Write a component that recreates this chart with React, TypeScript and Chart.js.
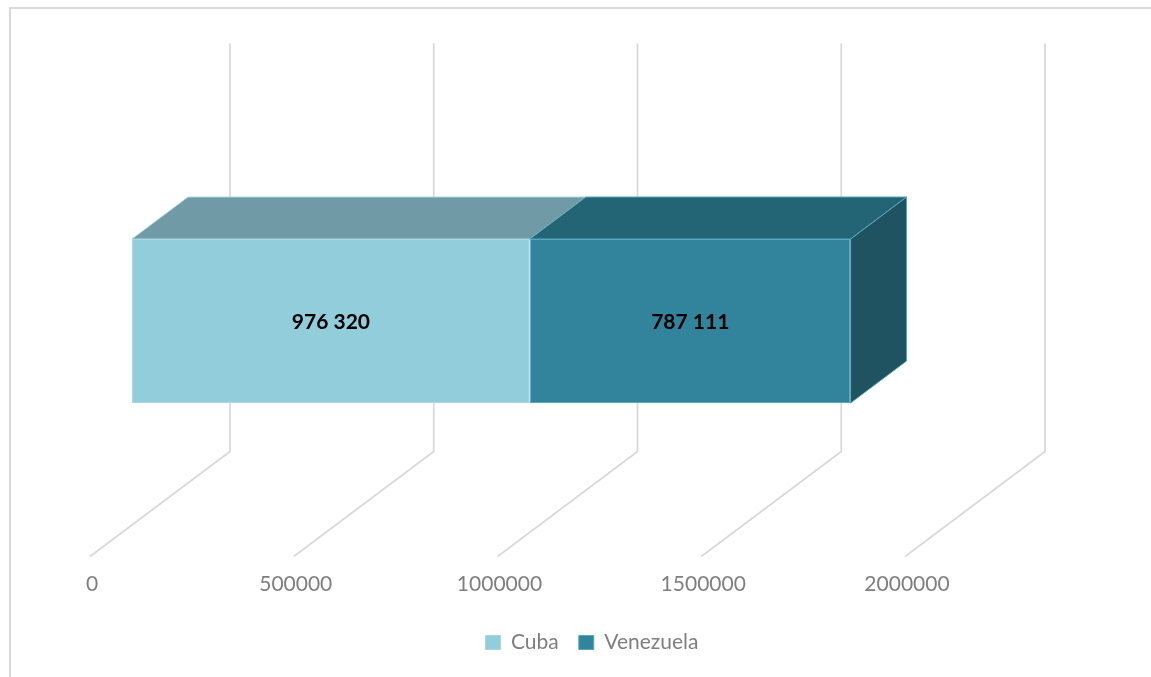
import React, { useEffect, useRef } from 'react';
import { Chart, registerables } from 'chart.js';

Chart.register(...registerables);

// ---------- data ----------
const CATEGORIES = ['Total'];
const SERIES_NAMES = ['Cuba', 'Venezuela'];
const CUBA_VALUES = [976320];
const VENEZUELA_VALUES = [787111];
const X_TICKS = [0, 500000, 1000000, 1500000, 2000000];

// ---------- styles ----------
const FRONT_COLORS = ['#92CDDC', '#31849B'];
const TOP_COLORS = ['#6F9AA6', '#236574'];
const SIDE_COLOR = '#1F5362';
const EDGE_COLORS = ['#A9D8E4', '#55A9BF'];
const GRID_COLOR = '#D9D9D9';
const TEXT_GREY = '#7F7F7F';
const FONT = 'Lato, "Open Sans", sans-serif';

// 3D projection: depth t in [0,1] (0 = floor front, 1 = back wall)
const DEPTH_DX = 140;
const DEPTH_DY = 105;
const BAR_T0 = 0.3;
const BAR_T1 = 0.7;
const WALL_MARGIN = 40;

const proj = (x: number, y: number, t: number): [number, number] => [
  x + (t - BAR_T0) * DEPTH_DX,
  y - (t - BAR_T0) * DEPTH_DY,
];

const fmt = (v: number) => String(Math.round(v)).replace(/\B(?=(\d{3})+(?!\d))/g, ' ');

function poly(ctx: CanvasRenderingContext2D, pts: [number, number][], fill: string, stroke: string) {
  ctx.beginPath();
  ctx.moveTo(pts[0][0], pts[0][1]);
  for (let i = 1; i < pts.length; i++) ctx.lineTo(pts[i][0], pts[i][1]);
  ctx.closePath();
  ctx.fillStyle = fill;
  ctx.fill();
  ctx.strokeStyle = stroke;
  ctx.lineWidth = 1;
  ctx.stroke();
}

const threeDPlugin = {
  id: 'threeD',
  beforeDraw(chart: any) {
    const ctx = chart.ctx as CanvasRenderingContext2D;
    ctx.save();
    ctx.fillStyle = '#ffffff';
    ctx.fillRect(0, 0, chart.width, chart.height);
    ctx.strokeStyle = GRID_COLOR;
    ctx.lineWidth = 2;
    ctx.strokeRect(10, 8, chart.width + 40, chart.height + 40);
    ctx.restore();
  },
  beforeDatasetsDraw(chart: any) {
    const ctx = chart.ctx as CanvasRenderingContext2D;
    const area = chart.chartArea;
    const xs = chart.scales.x;
    const yFloor = area.bottom + WALL_MARGIN;
    const yCeil = area.top - WALL_MARGIN;
    ctx.save();
    ctx.strokeStyle = GRID_COLOR;
    ctx.lineWidth = 1.75;
    xs.ticks.forEach((tk: any) => {
      const px = xs.getPixelForValue(tk.value);
      const [bx, by0] = proj(px, yCeil, 1);
      const [, by1] = proj(px, yFloor, 1);
      const [fx, fy] = proj(px, yFloor, 0);
      ctx.beginPath();
      ctx.moveTo(bx, by0);
      ctx.lineTo(bx, by1);
      ctx.lineTo(fx, fy);
      ctx.stroke();
    });
    ctx.restore();
  },
  afterDatasetsDraw(chart: any) {
    const ctx = chart.ctx as CanvasRenderingContext2D;
    const metas = chart.getSortedVisibleDatasetMetas();
    ctx.save();
    metas.forEach((meta: any, di: number) => {
      meta.data.forEach((el: any) => {
        const p = el.getProps(['x', 'y', 'base', 'height'], true);
        const top = p.y - p.height / 2;
        const bottom = p.y + p.height / 2;
        const left = Math.min(p.base, p.x);
        const right = Math.max(p.base, p.x);
        const [l1x, t1y] = proj(left, top, BAR_T1);
        const [r1x] = proj(right, top, BAR_T1);
        poly(ctx, [[left, top], [right, top], [r1x, t1y], [l1x, t1y]], TOP_COLORS[di], EDGE_COLORS[di]);
        if (di === metas.length - 1) {
          const [, b1y] = proj(right, bottom, BAR_T1);
          poly(ctx, [[right, top], [r1x, t1y], [r1x, b1y], [right, bottom]], SIDE_COLOR, EDGE_COLORS[di]);
        }
      });
    });
    // data labels
    ctx.fillStyle = '#000000';
    ctx.font = `bold 21px ${FONT}`;
    ctx.textAlign = 'center';
    ctx.textBaseline = 'middle';
    metas.forEach((meta: any) => {
      const ds = chart.data.datasets[meta.index];
      meta.data.forEach((el: any, i: number) => {
        const p = el.getProps(['x', 'y', 'base'], true);
        ctx.fillText(fmt(ds.data[i] as number), (p.x + p.base) / 2, p.y + 1);
      });
    });
    ctx.restore();
  },
};

export default function App() {
  const ref = useRef<HTMLCanvasElement>(null);
  useEffect(() => {
    const chart = new Chart(ref.current as HTMLCanvasElement, {
      type: 'bar',
      data: {
        labels: CATEGORIES,
        datasets: [
          {
            label: SERIES_NAMES[0],
            data: CUBA_VALUES,
            backgroundColor: FRONT_COLORS[0],
            borderColor: EDGE_COLORS[0],
            borderWidth: 1,
            borderSkipped: false,
            categoryPercentage: 1,
            barPercentage: 0.5,
            yAxisID: 'y',
          },
          {
            label: SERIES_NAMES[1],
            data: VENEZUELA_VALUES,
            backgroundColor: FRONT_COLORS[1],
            borderColor: EDGE_COLORS[1],
            borderWidth: 1,
            borderSkipped: false,
            categoryPercentage: 1,
            barPercentage: 0.5,
            yAxisID: 'y',
          },
        ],
      },
      options: {
        indexAxis: 'y',
        responsive: false,
        animation: false,
        events: [],
        layout: { padding: { left: 132, right: 99, top: 157, bottom: 14 } },
        scales: {
          x: {
            type: 'linear',
            stacked: true,
            min: X_TICKS[0],
            max: X_TICKS[X_TICKS.length - 1],
            grid: { display: false, drawTicks: false },
            border: { display: false },
            afterBuildTicks: (s: any) => {
              s.ticks = X_TICKS.map((v) => ({ value: v }));
            },
            afterFit: (s: any) => {
              s.height = 127;
            },
            ticks: {
              padding: 87,
              labelOffset: -40,
              color: TEXT_GREY,
              font: { family: FONT, size: 21 },
              maxRotation: 0,
              autoSkip: false,
              callback: (v: any) => String(v),
            },
          },
          y: {
            type: 'category',
            stacked: true,
            display: false,
          },
          y2: {
            type: 'category',
            position: 'right',
            display: true,
            grid: { display: false, drawTicks: false },
            border: { display: false },
            ticks: { display: false },
            afterFit: (s: any) => {
              s.width = 105;
            },
          },
        },
        plugins: {
          legend: {
            position: 'bottom',
            labels: {
              boxWidth: 15,
              boxHeight: 14,
              padding: 20,
              color: TEXT_GREY,
              font: { family: FONT, size: 21 },
            },
          },
          tooltip: { enabled: false },
        },
      },
      plugins: [threeDPlugin],
    } as any);
    return () => chart.destroy();
  }, []);
  return (
    <div style={{ position: 'fixed', left: 0, top: 0, width: 1151, height: 677, overflow: 'hidden', background: '#fff' }}>
      <canvas ref={ref} width={1151} height={677} style={{ display: 'block' }} />
    </div>
  );
}
